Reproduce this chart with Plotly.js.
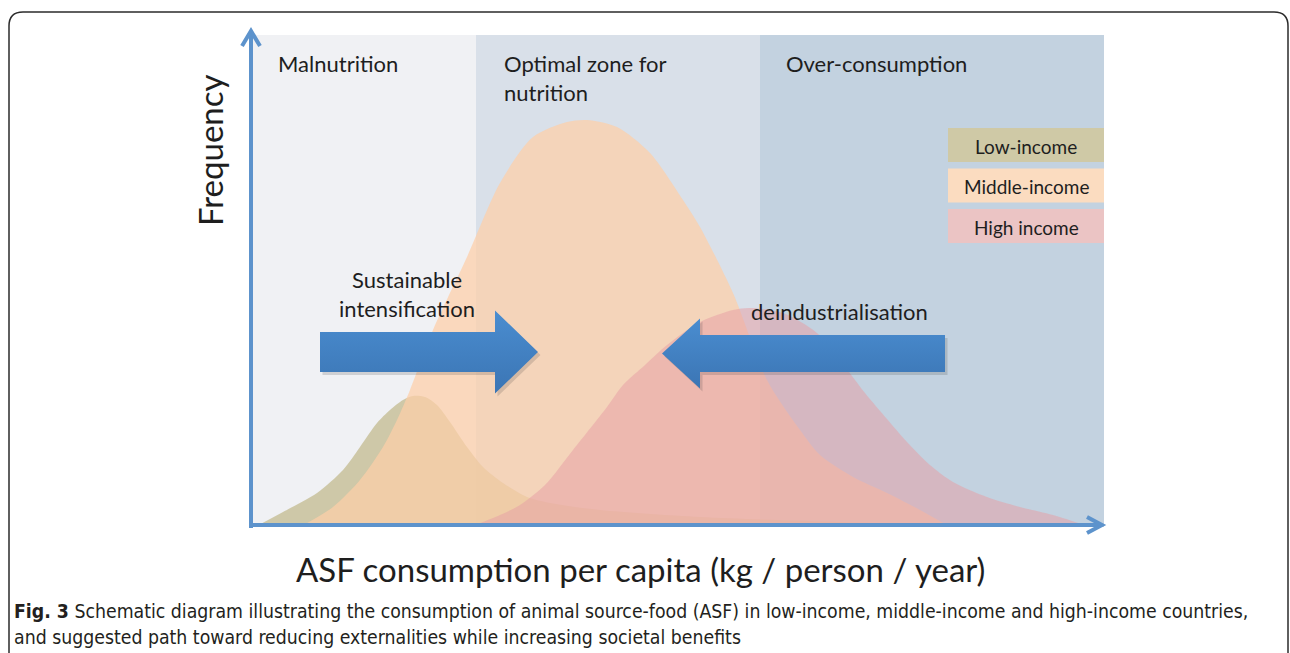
<!DOCTYPE html>
<html><head><meta charset="utf-8">
<script src="https://cdn.plot.ly/plotly-3.0.1.min.js"></script>
<style>html,body{margin:0;padding:0;background:#fff;}#chart{width:1290px;height:653px;}</style>
</head><body><div id="chart"></div>
<script>
// ---------- data ----------
const seriesNames = ['Low-income', 'Middle-income', 'High income'];
const lowX  = [0.4, 3.2, 6.6, 9.2, 10.9, 12.6, 13.9, 15.2, 16.2, 17.4, 18.6, 19.9, 21.6, 23.2, 25.2, 27.6, 29.9, 34.9, 44.9, 58.9, 74.9];
const lowY  = [0.0, 3.0, 6.8, 11.4, 16.0, 20.8, 23.4, 25.4, 26.2, 26.0, 24.4, 21.0, 16.0, 12.0, 8.8, 6.0, 4.8, 3.4, 2.0, 1.0, 0.0];
const midX  = [4.9, 8.2, 10.9, 13.2, 14.6, 15.9, 18.2, 21.6, 24.9, 28.2, 31.6, 33.6, 36.6, 39.9, 43.2, 44.9, 48.2, 51.6, 54.9, 56.9, 60.2, 63.6, 66.9, 69.9];
const midY  = [0.0, 4.0, 9.4, 16.0, 21.4, 27.4, 39.4, 54.0, 68.8, 78.0, 81.0, 81.4, 80.0, 74.8, 65.4, 60.0, 46.8, 29.4, 19.4, 14.4, 10.0, 6.8, 3.4, 0.0];
const highX = [21.9, 24.9, 26.9, 29.4, 32.2, 35.6, 37.2, 39.4, 41.6, 44.9, 48.2, 49.9, 53.2, 56.6, 59.2, 61.4, 63.6, 65.6, 67.9, 70.2, 73.6, 76.9, 80.2, 83.9];
const highY = [0.0, 2.4, 4.4, 8.4, 15.4, 24.0, 28.4, 32.4, 36.4, 41.0, 43.4, 43.8, 42.8, 38.8, 32.6, 26.8, 21.6, 17.0, 12.4, 9.0, 6.0, 4.0, 2.4, 0.0];

const zoneNames = ['Malnutrition', 'Optimal zone for<br>nutrition', 'Over-consumption'];
const zoneEdges = [0, 22.5, 50.9, 85.3];

const arrowLabels = ['Sustainable<br>intensification', 'deindustrialisation'];
const arrowTail  = [6.9, 69.4];
const arrowTip   = [28.7, 41.1];
const arrowLevel = [35.0, 34.7];

const xTitle = 'ASF consumption per capita (kg / person / year)';
const yTitle = 'Frequency';
const captionBold = 'Fig. 3';
const captionLines = [
  ' Schematic diagram illustrating the consumption of animal source-food (ASF) in low-income, middle-income and high-income countries,',
  'and suggested path toward reducing externalities while increasing societal benefits'
];

// ---------- styles ----------
const W = 1290, H = 653;
const L = 251, R = 1104, T = 35, B = 527;   // plot box in pixels
const X_MAX = 85.3, Y_MAX = 98.4;
const FONT = 'Lato, "Open Sans", sans-serif';
const CAPFONT = '"Liberation Sans Narrow", "DejaVu Sans Condensed", "Roboto Condensed", sans-serif';
const TXT = '#1e1e1e';
const AXIS = '#5d93cc';
const fills = ['rgba(193,184,138,0.72)', 'rgba(253,207,168,0.72)', 'rgba(231,160,164,0.52)'];
const legendFills = ['#cfc9a6', '#fbdcc0', '#ebc4c4'];
const zoneFills = ['#f0f1f4', '#d9e0e9', '#c3d2e0'];
const bodyHalf = [4.0, 3.7], headHalf = [8.3, 7.0], headLen = [4.3, 3.8];

const px = x => (x - L) / (R - L);
const py = y => (B - y) / (B - T);

// ---------- traces ----------
const traces = [];
const xs = [lowX, midX, highX], ys = [lowY, midY, highY];
for (let i = 0; i < 3; i++) {
  traces.push({
    type: 'scatter', mode: 'lines', x: xs[i], y: ys[i], name: seriesNames[i],
    line: {shape: 'spline', smoothing: 0.8, width: 0, color: fills[i]},
    fill: 'tozeroy', fillcolor: fills[i], hoverinfo: 'skip', showlegend: false
  });
}
function arrowPoly(i, dx, dy) {
  const d = Math.sign(arrowTip[i] - arrowTail[i]);
  const hb = arrowTip[i] - d * headLen[i];
  const y = arrowLevel[i];
  const X = [arrowTail[i], hb, hb, arrowTip[i], hb, hb, arrowTail[i], arrowTail[i]].map(v => v + dx);
  const Y = [y - bodyHalf[i], y - bodyHalf[i], y - headHalf[i], y, y + headHalf[i], y + bodyHalf[i], y + bodyHalf[i], y - bodyHalf[i]].map(v => v + dy);
  return {X, Y};
}
for (let i = 0; i < 2; i++) {
  const s = arrowPoly(i, 0.25, -0.6);
  traces.push({type: 'scatter', mode: 'lines', x: s.X, y: s.Y, fill: 'toself',
    fillcolor: 'rgba(60,60,60,0.18)', line: {width: 0}, hoverinfo: 'skip', showlegend: false});
  const p = arrowPoly(i, 0, 0);
  traces.push({type: 'scatter', mode: 'lines', x: p.X, y: p.Y, fill: 'toself',
    fillcolor: '#4283c4',
    fillgradient: {type: 'vertical', colorscale: [[0, '#3b75b4'], [1, '#4a8dd0']]},
    line: {width: 0}, hoverinfo: 'skip', showlegend: false});
}

// ---------- shapes ----------
const shapes = [];
for (let i = 0; i < 3; i++) {
  shapes.push({type: 'rect', xref: 'x', yref: 'paper', x0: zoneEdges[i], x1: zoneEdges[i + 1], y0: 0, y1: 1,
    fillcolor: zoneFills[i], line: {width: 0}, layer: 'below'});
}
// axes with arrowheads
shapes.push({type: 'line', xref: 'paper', yref: 'paper', x0: px(251), x1: px(251), y0: py(528), y1: py(31), line: {color: AXIS, width: 4}});
shapes.push({type: 'line', xref: 'paper', yref: 'paper', x0: px(249), x1: px(1102), y0: py(525), y1: py(525), line: {color: AXIS, width: 4}});
shapes.push({type: 'path', xref: 'paper', yref: 'paper',
  path: `M${px(242)},${py(46)} L${px(251)},${py(31)} L${px(260)},${py(46)}`, line: {color: AXIS, width: 4}});
shapes.push({type: 'path', xref: 'paper', yref: 'paper',
  path: `M${px(1087)},${py(517)} L${px(1102)},${py(525)} L${px(1087)},${py(533)}`, line: {color: AXIS, width: 4}});
// legend boxes
const legTop = 128, legH = 34, legGap = 6.5, legX0 = 948, legX1 = 1104;
for (let i = 0; i < 3; i++) {
  const y0 = legTop + i * (legH + legGap);
  shapes.push({type: 'rect', xref: 'paper', yref: 'paper', x0: px(legX0), x1: px(legX1), y0: py(y0 + legH), y1: py(y0),
    fillcolor: legendFills[i], line: {width: 0}});
}
// figure frame
const fx0 = 9, fy0 = 12, fx1 = 1288, fy1 = 700, rr = 14;
shapes.push({type: 'path', xref: 'paper', yref: 'paper', line: {color: '#2b2b2b', width: 1.5},
  path: `M${px(fx0)},${py(fy1)} L${px(fx0)},${py(fy0 + rr)} Q${px(fx0)},${py(fy0)} ${px(fx0 + rr)},${py(fy0)} ` +
        `L${px(fx1 - rr)},${py(fy0)} Q${px(fx1)},${py(fy0)} ${px(fx1)},${py(fy0 + rr)} L${px(fx1)},${py(fy1)}`});

// ---------- annotations ----------
const ann = [];
const zoneTextX = [276, 502, 784];
for (let i = 0; i < 3; i++) {
  ann.push({xref: 'paper', yref: 'paper', x: px(zoneTextX[i]), y: py(48), xanchor: 'left', yanchor: 'top', align: 'left',
    text: zoneNames[i], showarrow: false, font: {family: FONT, size: 22, color: TXT}});
}
ann.push({xref: 'paper', yref: 'paper', x: px(407), y: py(264), xanchor: 'center', yanchor: 'top', align: 'center',
  text: arrowLabels[0], showarrow: false, font: {family: FONT, size: 22, color: TXT}});
ann.push({xref: 'paper', yref: 'paper', x: px(749), y: py(311), xanchor: 'left', yanchor: 'middle',
  text: arrowLabels[1], showarrow: false, font: {family: FONT, size: 22, color: TXT}});
for (let i = 0; i < 3; i++) {
  const y0 = legTop + i * (legH + legGap);
  ann.push({xref: 'paper', yref: 'paper', x: px((legX0 + legX1) / 2), y: py(y0 + legH / 2 + 1), xanchor: 'center', yanchor: 'middle',
    text: seriesNames[i], showarrow: false, font: {family: FONT, size: 19, color: TXT}});
}
ann.push({xref: 'paper', yref: 'paper', x: px(210), y: py(150), xanchor: 'center', yanchor: 'middle', textangle: -90,
  text: yTitle, showarrow: false, font: {family: FONT, size: 33, color: TXT}});
ann.push({xref: 'paper', yref: 'paper', x: px(640), y: py(569), xanchor: 'center', yanchor: 'middle',
  text: xTitle, showarrow: false, font: {family: FONT, size: 33, color: TXT}});
const capY = [611, 637];
ann.push({xref: 'paper', yref: 'paper', x: px(12), y: py(capY[0]), xanchor: 'left', yanchor: 'middle', align: 'left',
  text: '<b>' + captionBold + '</b>' + captionLines[0], showarrow: false,
  font: {family: CAPFONT, size: 19.3, color: '#231f20'}});
ann.push({xref: 'paper', yref: 'paper', x: px(12), y: py(capY[1]), xanchor: 'left', yanchor: 'middle', align: 'left',
  text: captionLines[1], showarrow: false,
  font: {family: CAPFONT, size: 19.3, color: '#231f20'}});

const layout = {
  width: W, height: H,
  margin: {l: L, r: W - R, t: T, b: H - B, pad: 0},
  paper_bgcolor: '#ffffff', plot_bgcolor: 'rgba(0,0,0,0)',
  xaxis: {range: [0, X_MAX], visible: false, fixedrange: true},
  yaxis: {range: [0, Y_MAX], visible: false, fixedrange: true},
  showlegend: false, shapes: shapes, annotations: ann
};
Plotly.newPlot('chart', traces, layout, {staticPlot: true, displayModeBar: false});
</script></body></html>
